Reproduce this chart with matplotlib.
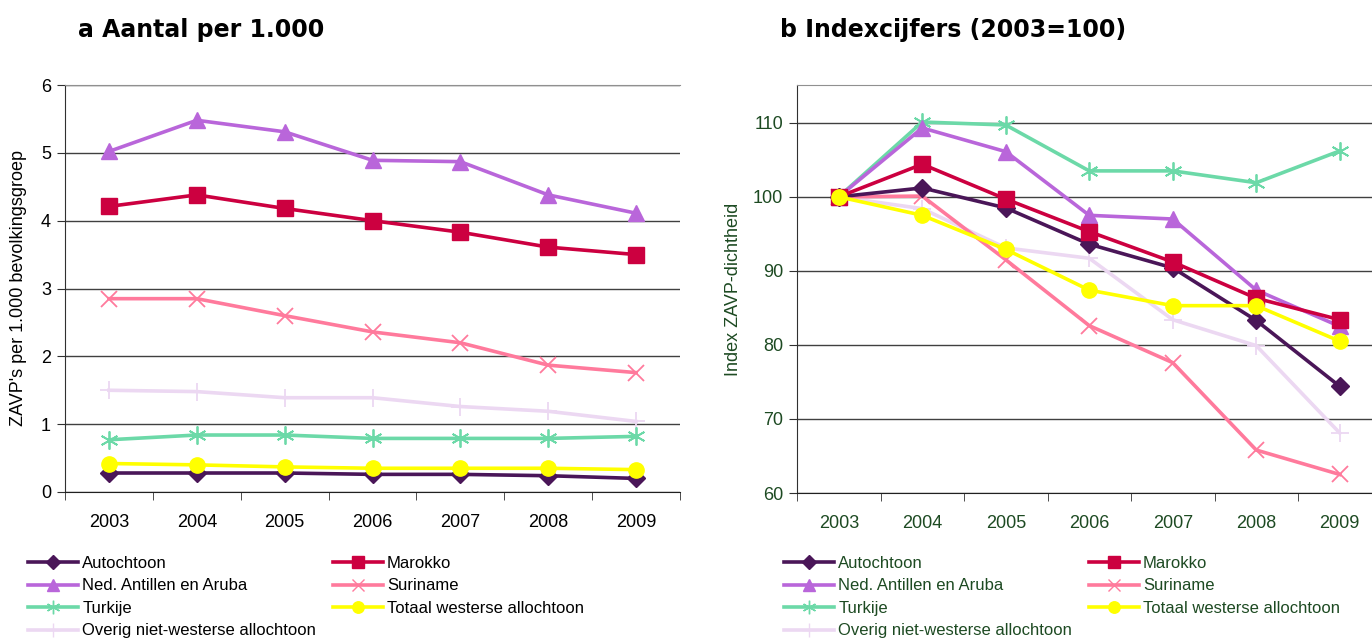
import matplotlib
matplotlib.use('Agg')
import matplotlib.pyplot as plt
from matplotlib.lines import Line2D

years = ['2003', '2004', '2005', '2006', '2007', '2008', '2009']

# a: aantal per 1.000
per1000_autochtoon = [0.28, 0.28, 0.28, 0.26, 0.26, 0.24, 0.20]
per1000_marokko = [4.21, 4.38, 4.18, 4.00, 3.83, 3.61, 3.50]
per1000_antillen = [5.02, 5.48, 5.31, 4.89, 4.87, 4.38, 4.11]
per1000_suriname = [2.85, 2.85, 2.60, 2.36, 2.20, 1.87, 1.76]
per1000_turkije = [0.77, 0.84, 0.84, 0.79, 0.79, 0.79, 0.82]
per1000_westers = [0.42, 0.40, 0.37, 0.35, 0.35, 0.35, 0.33]
per1000_overig = [1.50, 1.48, 1.39, 1.39, 1.26, 1.19, 1.04]

# b: indexcijfers (2003=100)
index_autochtoon = [100, 101.2, 98.5, 93.6, 90.4, 83.3, 74.4]
index_marokko = [100, 104.4, 99.7, 95.3, 91.2, 86.3, 83.4]
index_antillen = [100, 109.3, 106.1, 97.5, 97.0, 87.4, 82.5]
index_suriname = [100, 100.1, 91.5, 82.6, 77.6, 65.8, 62.5]
index_turkije = [100, 110.1, 109.7, 103.5, 103.5, 101.9, 106.2]
index_westers = [100, 97.5, 92.9, 87.4, 85.3, 85.3, 80.5]
index_overig = [100, 98.4, 93.1, 91.7, 83.4, 79.9, 68.1]

labels = ['Autochtoon', 'Marokko', 'Ned. Antillen en Aruba', 'Suriname',
          'Turkije', 'Totaal westerse allochtoon', 'Overig niet-westerse allochtoon']

# style per group: colour, marker, marker size
styles = {
    'Autochtoon': ('#4a1658', 'D', 9),
    'Marokko': ('#cc0040', 's', 11),
    'Ned. Antillen en Aruba': ('#b966da', '^', 12),
    'Suriname': ('#ff7a9c', 'x', 11),
    'Turkije': ('#6cd9a8', (6, 2, 0), 13),
    'Totaal westerse allochtoon': ('#ffff00', 'o', 11),
    'Overig niet-westerse allochtoon': ('#ecd8f2', '+', 13),
}

series_a = [per1000_autochtoon, per1000_marokko, per1000_antillen, per1000_suriname,
            per1000_turkije, per1000_westers, per1000_overig]
series_b = [index_autochtoon, index_marokko, index_antillen, index_suriname,
            index_turkije, index_westers, index_overig]

# drawing order (back to front)
draw_order = ['Overig niet-westerse allochtoon', 'Suriname', 'Turkije', 'Ned. Antillen en Aruba',
              'Autochtoon', 'Marokko', 'Totaal westerse allochtoon']
legend_order = ['Autochtoon', 'Ned. Antillen en Aruba', 'Turkije', 'Overig niet-westerse allochtoon',
                'Marokko', 'Suriname', 'Totaal westerse allochtoon']

green = '#1d4a22'
plt.rcParams['font.family'] = ['Liberation Sans', 'DejaVu Sans']

fig = plt.figure(figsize=(13.72, 6.43), dpi=100)
ax_a = fig.add_axes([65 / 1372, 151 / 643, 615 / 1372, 407 / 643])
ax_b = fig.add_axes([797 / 1372, 150 / 643, 575 / 1372, 408 / 643])


def draw_panel(ax, data, textcolor):
    x = list(range(len(years)))
    for name in draw_order:
        vals = data[labels.index(name)]
        col, mk, ms = styles[name]
        mew = 1.3 if mk in ('x', '+') or isinstance(mk, tuple) else 1
        ax.plot(x, vals, color=col, lw=2.6, marker=mk, markersize=ms,
                markeredgewidth=mew, markerfacecolor=col, markeredgecolor=col, zorder=3)
    ax.set_xticks(x)
    ax.set_xticklabels(years)
    ax.set_xticks([i - 0.5 for i in range(len(years) + 1)], minor=True)
    ax.tick_params(axis='x', which='major', length=0, pad=16, labelsize=13, labelcolor=textcolor)
    ax.tick_params(axis='x', which='minor', length=6, direction='out', color='#303030')
    ax.tick_params(axis='y', length=6, direction='out', pad=4, labelsize=13,
                   labelcolor=textcolor, color='#303030')
    ax.grid(axis='y', color='#404040', lw=1)
    ax.set_axisbelow(True)
    ax.spines['right'].set_visible(False)
    ax.spines['top'].set_color('#909090')
    ax.spines['left'].set_color('#303030')
    ax.spines['bottom'].set_color('#202020')
    leg_handles = []
    for name in legend_order:
        col, mk, ms = styles[name]
        leg_handles.append(Line2D([], [], color=col, lw=2.6, marker=mk, markersize=ms * 0.75,
                                  markerfacecolor=col, markeredgecolor=col))
    return leg_handles


h_a = draw_panel(ax_a, series_a, 'black')
ax_a.set_xlim(-0.5, 6.5)
ax_a.set_ylim(0, 6)
ax_a.set_yticks(range(0, 7))
ax_a.set_ylabel("ZAVP's per 1.000 bevolkingsgroep", fontsize=13, labelpad=10)

h_b = draw_panel(ax_b, series_b, green)
ax_b.set_xlim(-0.5, 6.386)
ax_b.set_ylim(60, 115.1)
ax_b.set_yticks(range(60, 111, 10))
ax_b.set_ylabel('Index ZAVP-dichtheid', fontsize=13, color=green, labelpad=8)

fig.text(78 / 1372, 1 - 30 / 643, 'a Aantal per 1.000', fontsize=17, fontweight='bold',
         family='DejaVu Sans', va='center', ha='left')
fig.text(780 / 1372, 1 - 30 / 643, 'b Indexcijfers (2003=100)', fontsize=17, fontweight='bold',
         family='DejaVu Sans', va='center', ha='left')

leg_kw = dict(ncol=2, frameon=False, fontsize=12, handlelength=3.0, handletextpad=0.25,
              labelspacing=0.45, columnspacing=1.0, borderaxespad=0, borderpad=0, loc='upper left')
fig.legend(h_a, legend_order, bbox_to_anchor=(28 / 1372, 1 - 556 / 643), **leg_kw)
leg_b = fig.legend(h_b, legend_order, bbox_to_anchor=(784 / 1372, 1 - 556 / 643), **leg_kw)
for t in leg_b.get_texts():
    t.set_color(green)

fig.savefig('out.png', dpi=100)
